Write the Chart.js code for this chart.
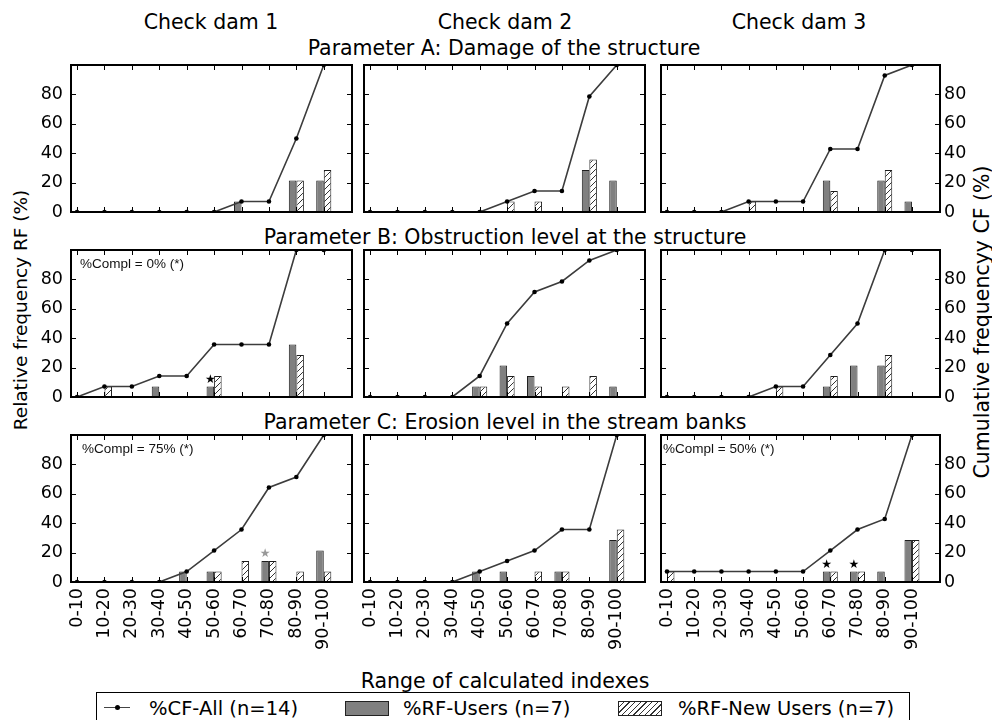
<!DOCTYPE html>
<html>
<head>
<meta charset="utf-8">
<script src="https://cdn.jsdelivr.net/npm/chart.js@4.4.1/dist/chart.umd.min.js"></script>
<style>
  body { margin: 0; background: #fff; font-family: "DejaVu Sans", sans-serif; }
  #page { position: relative; width: 992px; height: 720px; overflow: hidden; background: #fff; }
  .t { position: absolute; font-size: 20.5px; white-space: nowrap; transform: translate(-50%, -50%); color: #000; }
  .v { position: absolute; white-space: nowrap; transform: translate(-50%, -50%) rotate(-90deg); color: #000; }
  .note { position: absolute; font-family: "Liberation Sans", sans-serif; font-size: 13.5px; color: #111; white-space: nowrap; }
  .lg { position: absolute; font-size: 19.5px; white-space: nowrap; transform: translateY(-50%); color: #000; }
  .panel { position: absolute; }
</style>
</head>
<body>
<div id="page">
  <div class="t" style="left:211px;top:22px">Check dam 1</div>
  <div class="t" style="left:505px;top:22px">Check dam 2</div>
  <div class="t" style="left:799px;top:22px">Check dam 3</div>
  <div class="t" style="left:504px;top:48px">Parameter A: Damage of the structure</div>
  <div class="t" style="left:505px;top:237px">Parameter B: Obstruction level at the structure</div>
  <div class="t" style="left:505px;top:422px">Parameter C: Erosion level in the stream banks</div>
  <div class="v" style="left:20px;top:310px;font-size:18.5px">Relative frequency RF (%)</div>
  <div class="v" style="left:982px;top:322px;font-size:20.5px">Cumulative frequencyy CF (%)</div>
  <div class="t" style="left:505px;top:681px">Range of calculated indexes</div>

  <div style="position:absolute;left:96px;top:692px;width:812px;height:40px;border:1.5px solid #000;border-bottom:none"></div>
  <div style="position:absolute;left:104px;top:707px;width:26px;border-top:1.5px solid #444"></div>
  <div style="position:absolute;left:115px;top:705px;width:5px;height:5px;border-radius:50%;background:#000"></div>
  <div class="lg" style="left:149px;top:708px">%CF-All (n=14)</div>
  <div style="position:absolute;left:345px;top:701px;width:42px;height:13px;background:#808080;border:1px solid #222"></div>
  <div class="lg" style="left:403px;top:708px">%RF-Users (n=7)</div>
  <div style="position:absolute;left:618px;top:701px;width:42px;height:13px;border:1px solid #222;background:repeating-linear-gradient(135deg,#fff 0 3px,#333 3px 4px)"></div>
  <div class="lg" style="left:678px;top:708px">%RF-New Users (n=7)</div>
</div>
<script>
const cats = ["0-10", "10-20", "20-30", "30-40", "40-50", "50-60", "60-70", "70-80", "80-90", "90-100"];

// Parameter A
const cfA1 = [0, 0, 0, 0, 0, 0, 7.1, 7.1, 50, 100];
const usA1 = [0, 0, 0, 0, 0, 0, 7.1, 0, 21.4, 21.4];
const nuA1 = [0, 0, 0, 0, 0, 0, 0, 0, 21.4, 28.6];
const cfA2 = [0, 0, 0, 0, 0, 7.1, 14.3, 14.3, 78.6, 100];
const usA2 = [0, 0, 0, 0, 0, 0, 0, 0, 28.6, 21.4];
const nuA2 = [0, 0, 0, 0, 0, 7.1, 7.1, 0, 35.7, 0];
const cfA3 = [0, 0, 0, 7.1, 7.1, 7.1, 42.9, 42.9, 92.9, 100];
const usA3 = [0, 0, 0, 0, 0, 0, 21.4, 0, 21.4, 7.1];
const nuA3 = [0, 0, 0, 7.1, 0, 0, 14.3, 0, 28.6, 0];

// Parameter B
const cfB1 = [0, 7.1, 7.1, 14.3, 14.3, 35.7, 35.7, 35.7, 100, 100];
const usB1 = [0, 0, 0, 7.1, 0, 7.1, 0, 0, 35.7, 0];
const nuB1 = [0, 7.1, 0, 0, 0, 14.3, 0, 0, 28.6, 0];
const cfB2 = [0, 0, 0, 0, 14.3, 50, 71.4, 78.6, 92.9, 100];
const usB2 = [0, 0, 0, 0, 7.1, 21.4, 14.3, 0, 0, 7.1];
const nuB2 = [0, 0, 0, 0, 7.1, 14.3, 7.1, 7.1, 14.3, 0];
const cfB3 = [0, 0, 0, 0, 7.1, 7.1, 28.6, 50, 100, 100];
const usB3 = [0, 0, 0, 0, 0, 0, 7.1, 21.4, 21.4, 0];
const nuB3 = [0, 0, 0, 0, 7.1, 0, 14.3, 0, 28.6, 0];

// Parameter C
const cfC1 = [0, 0, 0, 0, 7.1, 21.4, 35.7, 64.3, 71.4, 100];
const usC1 = [0, 0, 0, 0, 7.1, 7.1, 0, 14.3, 0, 21.4];
const nuC1 = [0, 0, 0, 0, 0, 7.1, 14.3, 14.3, 7.1, 7.1];
const cfC2 = [0, 0, 0, 0, 7.1, 14.3, 21.4, 35.7, 35.7, 100];
const usC2 = [0, 0, 0, 0, 7.1, 7.1, 0, 7.1, 0, 28.6];
const nuC2 = [0, 0, 0, 0, 0, 0, 7.1, 7.1, 0, 35.7];
const cfC3 = [7.1, 7.1, 7.1, 7.1, 7.1, 7.1, 21.4, 35.7, 42.9, 100];
const usC3 = [0, 0, 0, 0, 0, 0, 7.1, 7.1, 7.1, 28.6];
const nuC3 = [7.1, 0, 0, 0, 0, 0, 7.1, 7.1, 0, 28.6];

// stars above the users bars: [category index, star colour]
const starsB1 = [[5, "#000"]];
const starsC1 = [[7, "#999"]];
const starsC3 = [[6, "#000"], [7, "#000"]];

const colLeft = [71, 364, 661];
const colWidth = [281, 281, 279];
const rowTop = [65, 250, 435];
const rowHeight = 147;
const noteOffset = [[0, 0, 0], [9, 0, 0], [11, 0, 2]];

const tickFont = { family: "DejaVu Sans", size: 17.5 };

function hatchPattern() {
  const c = document.createElement("canvas");
  c.width = 6;
  c.height = 6;
  const g = c.getContext("2d");
  g.fillStyle = "#fff";
  g.fillRect(0, 0, 6, 6);
  g.strokeStyle = "#333";
  g.lineWidth = 1;
  g.beginPath();
  g.moveTo(0, 6); g.lineTo(6, 0);
  g.moveTo(-1, 1); g.lineTo(1, -1);
  g.moveTo(5, 7); g.lineTo(7, 5);
  g.stroke();
  return g.createPattern(c, "repeat");
}

function noPad(s) {
  s.paddingTop = 0;
  s.paddingBottom = 0;
  s.paddingLeft = 0;
  s.paddingRight = 0;
}

const framePlugin = {
  id: "frame",
  afterDraw(chart) {
    const { ctx, chartArea: a } = chart;
    const xs = chart.scales.x;
    const ys = chart.scales.y;
    ctx.save();
    ctx.strokeStyle = "#000";
    ctx.lineWidth = 1;
    ctx.beginPath();
    for (let i = 0; i <= 10; i++) {
      const px = Math.round(xs.getPixelForValue(i)) + 0.5;
      ctx.moveTo(px, a.bottom); ctx.lineTo(px, a.bottom - 5);
      ctx.moveTo(px, a.top); ctx.lineTo(px, a.top + 5);
    }
    for (let v = 0; v <= 100; v += 20) {
      const py = Math.round(ys.getPixelForValue(v)) + 0.5;
      ctx.moveTo(a.left, py); ctx.lineTo(a.left + 5, py);
      ctx.moveTo(a.right, py); ctx.lineTo(a.right - 5, py);
    }
    ctx.stroke();
    ctx.lineWidth = 2;
    ctx.strokeRect(a.left, a.top, a.right - a.left, a.bottom - a.top);
    ctx.restore();
  }
};

const starPlugin = {
  id: "stars",
  afterDatasetsDraw(chart, args, opts) {
    const meta = chart.getDatasetMeta(1);
    const { ctx } = chart;
    ctx.save();
    ctx.font = "12px 'DejaVu Sans'";
    ctx.textAlign = "center";
    ctx.textBaseline = "bottom";
    (opts.list || []).forEach(([i, color]) => {
      const el = meta.data[i];
      ctx.fillStyle = color;
      ctx.fillText("\u2605", el.x, el.y - 1);
    });
    ctx.restore();
  }
};

function makePanel(row, col, cf, users, newUsers, stars, note) {
  const bottom = row === 2;
  const w = colWidth[col] + 120;
  const h = rowHeight + 12 + (bottom ? 80 : 0);
  const page = document.getElementById("page");
  const box = document.createElement("div");
  box.className = "panel";
  box.style.left = (colLeft[col] - 60) + "px";
  box.style.top = (rowTop[row] - 6) + "px";
  box.style.width = w + "px";
  box.style.height = h + "px";
  const canvas = document.createElement("canvas");
  canvas.width = w;
  canvas.height = h;
  box.appendChild(canvas);
  page.appendChild(box);

  if (note) {
    const n = document.createElement("div");
    n.className = "note";
    n.textContent = note;
    n.style.left = (colLeft[col] + noteOffset[row][col]) + "px";
    n.style.top = (rowTop[row] + 6) + "px";
    page.appendChild(n);
  }

  new Chart(canvas, {
    type: "bar",
    data: {
      datasets: [
        {
          type: "line",
          data: cf.map((v, i) => ({ x: i, y: v })),
          borderColor: "#3c3c3c",
          borderWidth: 1.6,
          pointRadius: 2.3,
          pointBackgroundColor: "#000",
          pointBorderWidth: 0,
          order: 0,
        },
        {
          data: users.map((v, i) => ({ x: i, y: v })),
          backgroundColor: "#808080",
          borderColor: "#1e1e1e",
          borderWidth: 1,
          categoryPercentage: 0.55,
          barPercentage: 1,
          order: 1,
        },
        {
          data: newUsers.map((v, i) => ({ x: i, y: v })),
          backgroundColor: hatchPattern(),
          borderColor: "#1e1e1e",
          borderWidth: 1,
          categoryPercentage: 0.55,
          barPercentage: 1,
          order: 1,
        },
      ],
    },
    options: {
      responsive: false,
      animation: false,
      layout: { padding: { top: 6, bottom: bottom ? 0 : 6, left: 0, right: 0 } },
      plugins: {
        legend: { display: false },
        tooltip: { enabled: false },
        stars: { list: stars },
      },
      scales: {
        x: {
          type: "linear",
          min: -0.22,
          max: 10.03,
          offset: false,
          grid: { display: false, drawTicks: false },
          border: { display: false },
          afterBuildTicks: (s) => { s.ticks = cats.map((c, i) => ({ value: i })); },
          ticks: {
            display: bottom,
            autoSkip: false,
            minRotation: 90,
            maxRotation: 90,
            padding: 6,
            color: "#000",
            font: tickFont,
            callback: (v, i) => cats[i],
          },
          afterFit: (s) => { s.height = bottom ? 86 : 0; noPad(s); },
        },
        y: {
          position: "left",
          min: 0,
          max: 100,
          grid: { display: false, drawTicks: false },
          border: { display: false },
          ticks: {
            display: col === 0,
            stepSize: 20,
            padding: 8,
            color: "#000",
            font: tickFont,
            callback: (v) => (v < 100 ? v : ""),
          },
          afterFit: (s) => { s.width = 60; noPad(s); },
        },
        y2: {
          position: "right",
          min: 0,
          max: 100,
          grid: { display: false, drawTicks: false },
          border: { display: false },
          ticks: {
            display: col === 2,
            stepSize: 20,
            padding: 4,
            color: "#000",
            font: tickFont,
            callback: (v) => (v < 100 ? v : ""),
          },
          afterFit: (s) => { s.width = 60; noPad(s); },
        },
      },
    },
    plugins: [framePlugin, starPlugin],
  });
}

makePanel(0, 0, cfA1, usA1, nuA1, [], null);
makePanel(0, 1, cfA2, usA2, nuA2, [], null);
makePanel(0, 2, cfA3, usA3, nuA3, [], null);
makePanel(1, 0, cfB1, usB1, nuB1, starsB1, "%Compl = 0% (*)");
makePanel(1, 1, cfB2, usB2, nuB2, [], null);
makePanel(1, 2, cfB3, usB3, nuB3, [], null);
makePanel(2, 0, cfC1, usC1, nuC1, starsC1, "%Compl = 75% (*)");
makePanel(2, 1, cfC2, usC2, nuC2, [], null);
makePanel(2, 2, cfC3, usC3, nuC3, starsC3, "%Compl = 50% (*)");
</script>
</body>
</html>
